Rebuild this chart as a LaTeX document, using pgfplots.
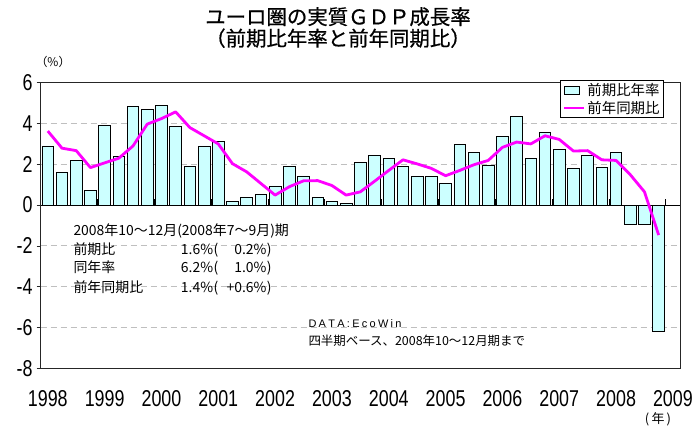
\documentclass[border=0pt]{standalone}
\usepackage{pgfplots}
\pgfplotsset{compat=1.18}
\usepackage{fontspec}
\setmainfont{Liberation Sans}
\newfontfamily\jp{Noto Sans CJK JP}
\newfontfamily\jpt[FakeBold=0.6]{Noto Sans CJK JP}
\newfontfamily\tickf[FakeStretch=0.78]{Liberation Sans}
\definecolor{barfill}{HTML}{CCFFFF}
\definecolor{linemag}{HTML}{FF00FF}
\begin{document}
\begin{tikzpicture}
\useasboundingbox (-40.7bp,-58.7bp) rectangle (653.3bp,368.3bp);
\begin{axis}[
  at={(0,0)}, anchor=south west,
  scale only axis, width=639.3bp, height=285.6bp,
  xmin=-0.5, xmax=44.5, ymin=-8, ymax=6,
  xtick={0,4,...,44},
  xticklabels={1998,1999,2000,2001,2002,2003,2004,2005,2006,2007,2008,2009},
  ytick={-8,-6,-4,-2,0,2,4,6},
  yticklabels={-8,-6,-4,-2,0,2,4,6},
  ytick pos=left,
  xtick pos=bottom,
  tick align=outside,
  major tick length=4bp,
  xtick style={draw=none},
  ymajorgrids,
  major grid style={black!25, dash pattern=on 6bp off 4bp, line width=0.9bp},
  axis line style={black!85, line width=1bp},
  tick style={black!85, line width=0.8bp},
  ticklabel style={font=\tickf\fontsize{23}{23}\selectfont},
  xticklabel style={anchor=base, yshift=-34.4bp},
  yticklabel style={inner xsep=4bp},
  legend cell align=left,
  legend style={at={(axis description cs:0.975,1.0095)}, anchor=north east,
    draw=black, line width=0.8bp, fill=white,
    font=\jp\fontsize{14.5}{16}\selectfont,
    inner xsep=2bp, inner ysep=1bp, row sep=0bp,
    /tikz/every even column/.append style={column sep=3bp}},
]
\addplot[ybar, bar width=0.82, fill=barfill, draw=black, line width=0.8bp,
  legend image code/.code={\draw[fill=barfill, draw=black, line width=0.8bp] (0bp,-4bp) rectangle (15bp,4bp);}]
coordinates {
(0,2.9) (1,1.6) (2,2.2) (3,0.7) (4,3.9) (5,2.4) (6,4.85) (7,4.7)
(8,4.9) (9,3.85) (10,1.9) (11,2.9) (12,3.1) (13,0.18) (14,0.36) (15,0.52)
(16,0.94) (17,1.91) (18,1.43) (19,0.37) (20,0.16) (21,0.08) (22,2.09) (23,2.45)
(24,2.30) (25,1.91) (26,1.41) (27,1.41) (28,1.05) (29,2.98) (30,2.59) (31,1.96)
(32,3.35) (33,4.35) (34,2.28) (35,3.56) (36,2.75) (37,1.81) (38,2.45) (39,1.85)
(40,2.57) (41,-0.94) (42,-0.97) (43,-6.17)
};
\addlegendentry{前期比年率}
\draw[black, line width=1bp] (axis cs:-0.5,0) -- (axis cs:44.5,0);
\pgfplotsinvokeforeach{3.5,7.5,11.5,15.5,19.5,23.5,27.5,31.5,35.5,39.5,43.5}{
  \draw[black, line width=0.8bp] (axis cs:#1,0) -- ++(0bp,6bp);
}
\addplot[linemag, line width=2.8bp, no marks, sharp plot, line join=round,
  legend image code/.code={\draw[linemag, line width=2.8bp] (0bp,0bp) -- (20bp,0bp);}]
coordinates {
(0,3.63) (1,2.79) (2,2.67) (3,1.84) (4,2.07) (5,2.30) (6,2.90) (7,3.97)
(8,4.24) (9,4.57) (10,3.80) (11,3.40) (12,3.0) (13,2.03) (14,1.63) (15,1.06)
(16,0.49) (17,0.90) (18,1.19) (19,1.20) (20,0.96) (21,0.49) (22,0.65) (23,1.17)
(24,1.70) (25,2.22) (26,2.02) (27,1.80) (28,1.44) (29,1.70) (30,1.98) (31,2.19)
(32,2.83) (33,3.09) (34,3.0) (35,3.40) (36,3.22) (37,2.65) (38,2.67) (39,2.22)
(40,2.19) (41,1.49) (42,0.65) (43,-1.47)
};
\addlegendentry{前年同期比}
\end{axis}
% titles and notes
\tikzset{ann/.style={inner sep=0pt, text height=0.8em, text depth=0.2em}}
\node[font=\jpt\fontsize{20.5}{20.5}\selectfont] at (297.3bp,351.6bp) {ユーロ圏の実質ＧＤＰ成長率};
\node[font=\jpt\fontsize{20.5}{20.5}\selectfont] at (297.3bp,330.1bp) {（前期比年率と前年同期比）};
\node[font=\jp\fontsize{12}{12}\selectfont] at (12.3bp,306.3bp) {（\%）};
\node[font=\jp\fontsize{13}{13}\selectfont] at (617.3bp,-51bp) {(\,年\,)};
\begin{scope}[every node/.style={ann, font=\jp\fontsize{14}{14}\selectfont}]
\node[anchor=west] at (32.6bp,135.3bp) {2008年10～12月(2008年7～9月)期};
\node[anchor=west] at (32.6bp,116.6bp) {前期比};
\node[anchor=west] at (32.6bp,98.3bp) {同年率};
\node[anchor=west] at (32.6bp,79bp) {前年同期比};
\node[anchor=east] at (172.6bp,116.6bp) {1.6\%};
\node[anchor=east] at (172.6bp,98.3bp) {6.2\%};
\node[anchor=east] at (172.6bp,79bp) {1.4\%};
\node[anchor=west] at (172.6bp,116.6bp) {(};
\node[anchor=west] at (172.6bp,98.3bp) {(};
\node[anchor=west] at (172.6bp,79bp) {(};
\node[anchor=east] at (226bp,116.6bp) {0.2\%};
\node[anchor=east] at (226bp,98.3bp) {1.0\%};
\node[anchor=east] at (226bp,79bp) {+0.6\%};
\node[anchor=west] at (226bp,116.6bp) {)};
\node[anchor=west] at (226bp,98.3bp) {)};
\node[anchor=west] at (226bp,79bp) {)};
\end{scope}
\def\k{\kern2.3bp}
\node[ann, anchor=west, font=\fontsize{11}{11}\selectfont] at (267.6bp,43.3bp) {D\k A\k T\k A\k :\k E\k c\k o\k W\k i\k n};
\node[ann, anchor=west, font=\jp\fontsize{12.5}{12.5}\selectfont] at (267.6bp,25.6bp) {四半期ベース、2008年10～12月期まで};
\end{tikzpicture}
\end{document}
